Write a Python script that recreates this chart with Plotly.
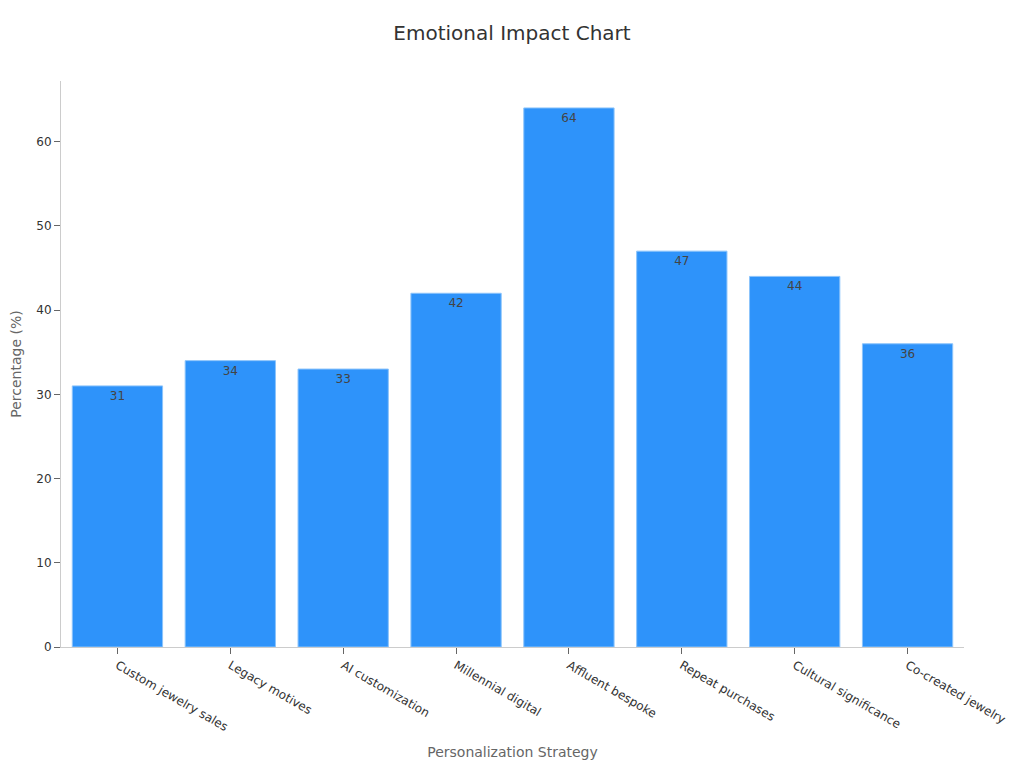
import plotly.graph_objects as go

# data
strategies = ["Custom jewelry sales", "Legacy motives", "AI customization", "Millennial digital",
              "Affluent bespoke", "Repeat purchases", "Cultural significance", "Co-created jewelry"]
percentages = [31, 34, 33, 42, 64, 47, 44, 36]

fig = go.Figure()
fig.add_trace(go.Bar(
    x=strategies,
    y=percentages,
    text=percentages,
    textposition="inside",
    insidetextanchor="end",
    textfont=dict(color="#444444", size=12),
    marker=dict(color="#2E93FA", line=dict(color="#8cc4fb", width=1)),
    hoverinfo="x+y",
))

# page body has an 8px margin, so the figure is a bit smaller than the window
fig.update_layout(
    title=dict(text="Emotional Impact Chart", x=0.5, xanchor="center",
               y=1 - 25 / 752, yanchor="middle", automargin=False,
               font=dict(size=20, color="#333333")),
    font=dict(family="DejaVu Sans", size=12, color="#333333"),
    width=1008, height=752,
    margin=dict(l=53, r=52, t=73, b=113, autoexpand=False),
    plot_bgcolor="white", paper_bgcolor="white",
    bargap=0.2,
    showlegend=False,
)
fig.update_xaxes(
    title=dict(text="Personalization Strategy", font=dict(size=14, color="#666666"), standoff=14),
    automargin=False,
    tickangle=30,
    showline=True, linecolor="#cccccc", linewidth=1,
    ticks="outside", ticklen=6, tickcolor="#666666",
    tickfont=dict(size=12, color="#333333"),
    showgrid=False,
)
fig.update_yaxes(
    title=dict(text="Percentage (%)", font=dict(size=14, color="#666666"), standoff=20),
    automargin=False,
    range=[0, 67.2],
    dtick=10,
    showline=True, linecolor="#cccccc", linewidth=1,
    ticks="outside", ticklen=6, tickcolor="#666666",
    tickfont=dict(size=12, color="#333333"),
    showgrid=False, zeroline=False,
)

fig.write_html("out.html")
